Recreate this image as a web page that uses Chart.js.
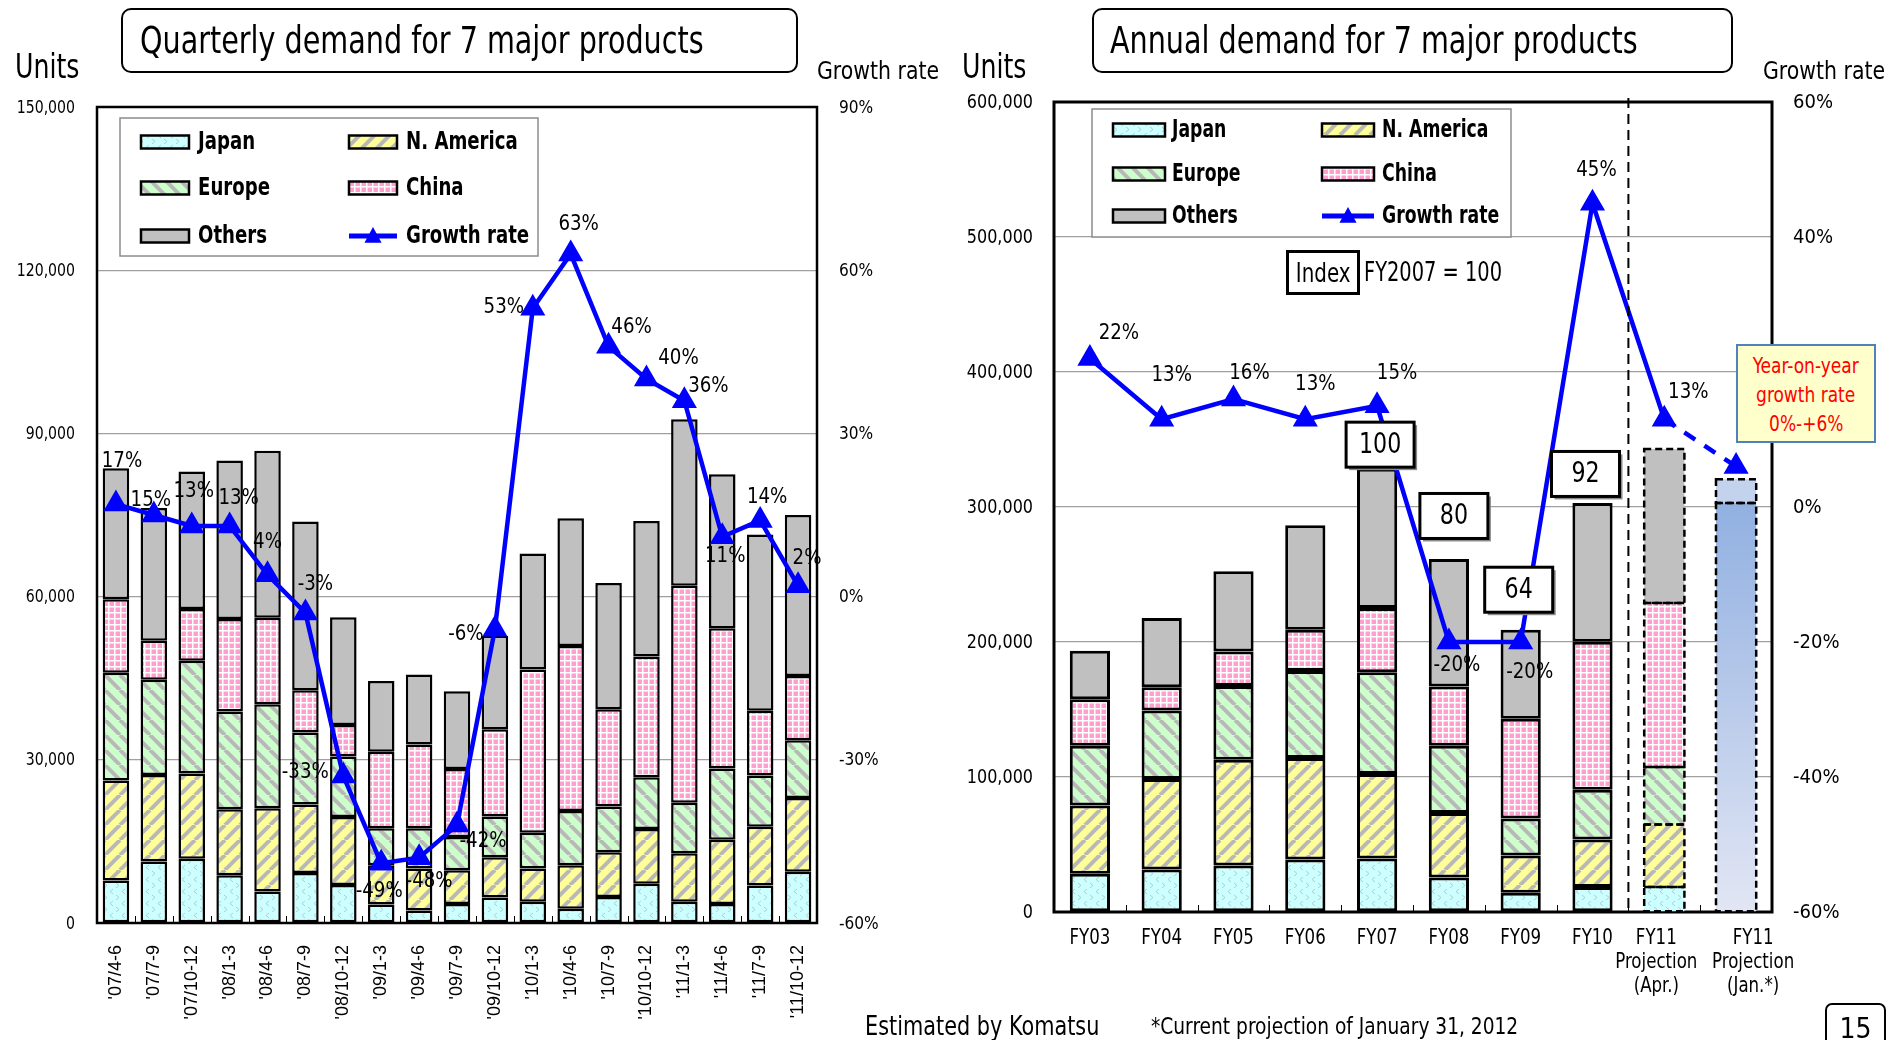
<!DOCTYPE html>
<html>
<head>
<meta charset="utf-8">
<title>Demand for 7 major products</title>
<script src="https://cdn.jsdelivr.net/npm/chart.js@4.4.1/dist/chart.umd.min.js"></script>
<style>
  body { margin: 0; width: 1904px; height: 1040px; background: #fff; position: relative; overflow: hidden;
         font-family: "DejaVu Sans Condensed", "DejaVu Sans", sans-serif; color: #000; }
  canvas { position: absolute; top: 0; }
  .t { position: absolute; white-space: nowrap; line-height: 1; transform-origin: 0 50%; }
  .title { position: absolute; box-sizing: border-box; border: 2.5px solid #000; border-radius: 10px;
           display: flex; align-items: center; font-size: 37px; white-space: nowrap; }
  .title span { display: inline-block; transform: scaleX(0.86); transform-origin: 0 50%; }
  .note { position: absolute; box-sizing: border-box; background: #ffffcc; border: 2px solid #4f81bd;
          color: #f00; text-align: center; font-size: 22px; line-height: 29px; padding-top: 5px; }
  .note span { display: inline-block; transform: scaleX(0.86); }
</style>
</head>
<body>
<canvas id="quarterly" width="950" height="1040" style="left:0"></canvas>
<canvas id="annual" width="954" height="1040" style="left:950px"></canvas>

<div class="title" style="left:121px;top:8px;width:677px;height:65px;padding-left:17px"><span>Quarterly demand for 7 major products</span></div>
<div class="title" style="left:1092px;top:8px;width:641px;height:65px;padding-left:16px"><span>Annual demand for 7 major products</span></div>

<div class="t" style="left:15px;top:50px;font-size:33px;transform:scaleX(0.85)">Units</div>
<div class="t" style="left:817px;top:58px;font-size:25px;transform:scaleX(0.91)">Growth rate</div>
<div class="t" style="left:962px;top:50px;font-size:33px;transform:scaleX(0.85)">Units</div>
<div class="t" style="left:1763px;top:58px;font-size:25px;transform:scaleX(0.91)">Growth rate</div>

<div class="t" style="left:1286px;top:250px;width:74px;height:45px;box-sizing:border-box;border:3px solid #000;font-size:26px;display:flex;align-items:center;justify-content:center"><span style="display:inline-block;transform:scaleX(0.85)">Index</span></div>
<div class="t" style="left:1364px;top:259px;font-size:26px;transform:scaleX(0.83)">FY2007 = 100</div>

<div class="note" style="left:1736px;top:344px;width:140px;height:99px"><span>Year-on-year</span><br><span>growth rate</span><br><span>0%-+6%</span></div>

<div class="t" style="left:865px;top:1013px;font-size:26px;transform:scaleX(0.89)">Estimated by Komatsu</div>
<div class="t" style="left:1151px;top:1015px;font-size:23px;transform:scaleX(0.9)">*Current projection of January 31, 2012</div>
<div class="t" style="left:1825px;top:1003px;width:61px;height:50px;box-sizing:border-box;border:2px solid #000;border-radius:7px;font-size:28px;text-align:center;padding-top:10px">15</div>

<script>
// ---- quarterly data (units) ----
const quarters = ["'07/4-6", "'07/7-9", "'07/10-12", "'08/1-3", "'08/4-6", "'08/7-9", "'08/10-12",
                  "'09/1-3", "'09/4-6", "'09/7-9", "'09/10-12", "'10/1-3", "'10/4-6", "'10/7-9",
                  "'10/10-12", "'11/1-3", "'11/4-6", "'11/7-9", "'11/10-12"];
const qJapan    = [7800, 11300, 11800, 8800, 5800, 9200, 7000, 3400, 2300, 3500, 4700, 3900, 2600, 4800, 7200, 3900, 3500, 6900, 9400];
const qNAmerica = [18400, 15900, 15700, 12100, 15300, 12600, 12500, 7200, 7700, 6200, 7400, 6100, 8000, 8200, 10100, 8900, 11800, 10800, 13600];
const qEurope   = [19800, 17500, 20700, 18000, 19100, 13200, 11100, 6800, 7400, 6100, 7500, 6600, 10000, 8400, 9500, 9300, 13100, 9400, 10600];
const qChina    = [13500, 7200, 9500, 17000, 15900, 7800, 5800, 14100, 15400, 12500, 16000, 30000, 30300, 17900, 22200, 39900, 25800, 11900, 11800];
const qOthers   = [24100, 24400, 25300, 29100, 30700, 31000, 19800, 13000, 12900, 14300, 17200, 21300, 23500, 23200, 24900, 30600, 28300, 32400, 29600];
const qGrowth   = [17, 15, 13, 13, 4, -3, -33, -49, -48, -42, -6, 53, 63, 46, 40, 36, 11, 14, 2];

// ---- annual data (units) ----
const years = ['FY03', 'FY04', 'FY05', 'FY06', 'FY07', 'FY08', 'FY09', 'FY10',
               ['FY11', 'Projection', '(Apr.)'], ['FY11', 'Projection', '(Jan.*)']];
const aJapan    = [28300, 31500, 34500, 38900, 39700, 25600, 14300, 18500, 18500, null];
const aNAmerica = [50500, 67000, 78300, 75100, 62500, 47800, 27600, 35200, 46300, null];
const aEurope   = [44300, 50700, 54700, 64500, 75400, 49800, 27300, 36900, 42600, null];
const aChina    = [34500, 17200, 25400, 30600, 47600, 43800, 73900, 109600, 121500, null];
const aOthers   = [36000, 51300, 59500, 77300, 103200, 94500, 66000, 102800, 114100, null];
const aJanBase  = [null, null, null, null, null, null, null, null, null, 303000];
const aJanRange = [null, null, null, null, null, null, null, null, null, 17500];
const aGrowth   = [22, 13, 16, 13, 15, -20, -20, 45, 13, 6];
const aIndex    = [null, null, null, null, 100, 80, 64, 92, null, null];

// label placement around the growth points, [dx, dy] in px
const qLabelOffsets = [[6, -43], [-3, -15], [2, -35], [9, -28], [0, -33], [10, -29], [-38, -4], [-2, 28], [10, 24],
                       [26, 16], [-29, 5], [-29, -1], [8, -30], [23, -19], [32, -21], [24, -14], [3, 20], [7, -23], [9, -27]];
const aLabelOffsets = [[29, -25], [10, -44], [16, -26], [10, -35], [20, -32], [8, 23], [9, 30], [4, -33], [24, -27], null];
const aIndexOffsets = [null, null, null, null, [3, -24], [5, -43], [-2, -40], [-7, -29], null, null];
const aTickShift    = [0, 0, 0, 0, 0, 0, 0, 0, -8, 17];

const FONT = '"DejaVu Sans Condensed", "DejaVu Sans", sans-serif';
const WIDE = '"Liberation Sans", Arial, sans-serif';

// text drawn narrower than the font's own width
function squeeze(ctx, text, x, y, sx, align) {
  ctx.save();
  ctx.translate(x, y);
  ctx.scale(sx, 1);
  ctx.textAlign = align || 'center';
  ctx.fillText(text, 0, 0);
  ctx.restore();
}

// ---- hatch fills ----
function makeFill(bg, size, draw) {
  const c = document.createElement('canvas');
  c.width = size; c.height = size;
  const g = c.getContext('2d');
  g.fillStyle = bg;
  g.fillRect(0, 0, size, size);
  if (draw) draw(g, size);
  return g.createPattern(c, 'repeat');
}
function stripes(dir) {
  return (g, s) => {
    g.strokeStyle = '#b8b8b8';
    g.lineWidth = 4;
    for (const k of [-s, 0, s]) {
      g.beginPath();
      if (dir > 0) { g.moveTo(k, s); g.lineTo(k + s, 0); }
      else { g.moveTo(k, 0); g.lineTo(k + s, s); }
      g.stroke();
    }
  };
}
const fillJapan = makeFill('#ccffff', 12, g => {
  g.strokeStyle = '#b4cccc'; g.lineWidth = 1;
  g.beginPath();
  g.moveTo(5, 1); g.lineTo(2, 3.5); g.lineTo(5, 6);
  g.moveTo(8, 7); g.lineTo(11, 9.5); g.lineTo(8, 12);
  g.stroke();
});
const fillNAm = makeFill('#ffff99', 15, stripes(1));
const fillEur = makeFill('#ccffcc', 15, stripes(-1));
const fillChina = makeFill('#ff9fcf', 6, g => {
  g.fillStyle = '#fff';
  g.fillRect(0, 0, 1.5, 6);
  g.fillRect(0, 0, 6, 1.5);
});
const fillOthers = '#c0c0c0';

const legendItems = [
  { text: 'Japan', fill: fillJapan }, { text: 'N. America', fill: fillNAm },
  { text: 'Europe', fill: fillEur }, { text: 'China', fill: fillChina },
  { text: 'Others', fill: fillOthers }, { text: 'Growth rate', line: true }
];

function triangle(ctx, x, y, r) {
  ctx.beginPath();
  ctx.moveTo(x, y - r);
  ctx.lineTo(x + r * 0.95, y + r * 0.75);
  ctx.lineTo(x - r * 0.95, y + r * 0.75);
  ctx.closePath();
  ctx.fill();
}

// ---- plugins ----
const framePlugin = {
  id: 'frame',
  beforeDatasetsDraw(chart, args, o) {
    const a = chart.chartArea, ctx = chart.ctx, x = chart.scales.x;
    ctx.save();
    ctx.strokeStyle = '#000';
    ctx.lineWidth = 1;
    for (let i = 1; i < x.ticks.length; i++) {
      const px = Math.round((x.getPixelForTick(i - 1) + x.getPixelForTick(i)) / 2) + 0.5;
      ctx.beginPath(); ctx.moveTo(px, a.bottom); ctx.lineTo(px, a.bottom - 7); ctx.stroke();
    }
    ctx.lineWidth = o.width;
    ctx.strokeRect(a.left, a.top, a.right - a.left, a.bottom - a.top);
    ctx.restore();
  }
};

// value axis labels on both sides (and the category labels when asked)
const axisText = {
  id: 'axisText',
  afterDraw(chart, args, o) {
    const ctx = chart.ctx, a = chart.chartArea, y = chart.scales.y, y1 = chart.scales.y1;
    ctx.save();
    ctx.fillStyle = '#000';
    ctx.textBaseline = 'middle';
    ctx.font = o.font;
    y.ticks.forEach(t => squeeze(ctx, t.value.toLocaleString('en-US'), a.left - o.pad, y.getPixelForValue(t.value) + 1, o.sxLeft, 'right'));
    y1.ticks.forEach(t => squeeze(ctx, t.value + '%', a.right + o.pad, y1.getPixelForValue(t.value) + 1, o.sxRight, 'left'));
    if (o.categories) {
      const x = chart.scales.x;
      ctx.font = o.catFont;
      o.categories.forEach((lab, i) => {
        const lines = Array.isArray(lab) ? lab : [lab];
        const cx = x.getPixelForTick(i) + o.catShift[i];
        lines.forEach((ln, j) => squeeze(ctx, ln, cx, a.bottom + o.catTop + j * o.catStep, o.catSx, 'center'));
      });
    }
    ctx.restore();
  }
};

const growthLabels = {
  id: 'growthLabels',
  afterDatasetsDraw(chart, args, o) {
    const ctx = chart.ctx, meta = chart.getDatasetMeta(0);
    ctx.save();
    ctx.font = o.font;
    ctx.fillStyle = '#000';
    ctx.textBaseline = 'middle';
    meta.data.forEach((pt, i) => {
      const off = o.offsets[i];
      if (!off) return;
      squeeze(ctx, o.values[i] + '%', pt.x + off[0], pt.y + off[1], o.sx, 'center');
    });
    ctx.restore();
  }
};

const boxLegend = {
  id: 'boxLegend',
  afterDraw(chart, args, o) {
    const ctx = chart.ctx;
    const [bx, by, bw, bh] = o.box;
    ctx.save();
    ctx.fillStyle = '#fff';
    ctx.fillRect(bx, by, bw, bh);
    ctx.strokeStyle = '#8c8c8c';
    ctx.lineWidth = 1.5;
    ctx.strokeRect(bx, by, bw, bh);
    legendItems.forEach((it, i) => {
      const col = o.cols[i % 2], y = o.rows[Math.floor(i / 2)];
      const sx = col[0], w = o.swatch[0], h = o.swatch[1];
      if (it.line) {
        ctx.strokeStyle = '#0000ff';
        ctx.lineWidth = 5;
        ctx.beginPath(); ctx.moveTo(sx, y); ctx.lineTo(sx + w, y); ctx.stroke();
        ctx.fillStyle = '#0000ff';
        triangle(ctx, sx + w / 2, y, 9);
      } else {
        ctx.fillStyle = it.fill;
        ctx.fillRect(sx, y - h / 2, w, h);
        ctx.strokeStyle = '#000';
        ctx.lineWidth = 2.5;
        ctx.strokeRect(sx, y - h / 2, w, h);
      }
      ctx.fillStyle = '#000';
      ctx.font = o.font;
      ctx.textBaseline = 'middle';
      squeeze(ctx, it.text, col[1], y + 1, o.sx, 'left');
    });
    ctx.restore();
  }
};

// dashed outlines for the FY11 projection bars, separator and index boxes
const projectionMarks = {
  id: 'projectionMarks',
  afterDatasetsDraw(chart) {
    const ctx = chart.ctx, a = chart.chartArea, x = chart.scales.x;
    ctx.save();
    ctx.strokeStyle = '#000';
    ctx.lineWidth = 2.5;
    ctx.setLineDash([7, 4]);
    const outline = (ds, idx) => {
      const el = chart.getDatasetMeta(ds).data[idx];
      if (!el) return;
      const top = Math.min(el.y, el.base), h = Math.abs(el.base - el.y);
      ctx.strokeRect(el.x - el.width / 2, top, el.width, h);
    };
    for (let ds = 1; ds <= 5; ds++) outline(ds, 8);
    outline(6, 9);
    outline(7, 9);
    // separator between actual and projected years
    const sx = (x.getPixelForTick(7) + x.getPixelForTick(8)) / 2;
    ctx.lineWidth = 2;
    ctx.setLineDash([10, 6]);
    ctx.beginPath(); ctx.moveTo(sx, a.top - 4); ctx.lineTo(sx, a.bottom); ctx.stroke();
    ctx.restore();
  },
  afterDraw(chart) {
    const ctx = chart.ctx;
    const others = chart.getDatasetMeta(5).data;
    ctx.save();
    aIndex.forEach((v, i) => {
      if (v === null) return;
      const el = others[i], off = aIndexOffsets[i];
      const cx = el.x + off[0], cy = el.y + off[1], w = 68, h = 45;
      ctx.fillStyle = '#8a8a8a';
      ctx.fillRect(cx - w / 2 + 3, cy - h / 2 + 3, w, h);
      ctx.fillStyle = '#fff';
      ctx.fillRect(cx - w / 2, cy - h / 2, w, h);
      ctx.strokeStyle = '#000';
      ctx.lineWidth = 3;
      ctx.strokeRect(cx - w / 2, cy - h / 2, w, h);
      ctx.fillStyle = '#000';
      ctx.font = '28px ' + FONT;
      ctx.textBaseline = 'middle';
      squeeze(ctx, String(v), cx, cy + 1, 0.88, 'center');
    });
    ctx.restore();
  }
};

function barSet(label, data, fill, width) {
  return {
    label, data, backgroundColor: fill, borderColor: '#000', borderWidth: width,
    borderSkipped: false, order: 1
  };
}
function growthSet(data) {
  return {
    label: 'Growth rate', type: 'line', data, yAxisID: 'y1', order: 0,
    borderColor: '#0000ff', borderWidth: 4.5, tension: 0, clip: false,
    pointStyle: 'triangle', pointRadius: 10, pointBackgroundColor: '#0000ff', pointBorderColor: '#0000ff'
  };
}

// ---- quarterly chart ----
new Chart(document.getElementById('quarterly'), {
  type: 'bar',
  data: {
    labels: quarters,
    datasets: [
      growthSet(qGrowth),
      barSet('Japan', qJapan, fillJapan, 2.5),
      barSet('N. America', qNAmerica, fillNAm, 2.5),
      barSet('Europe', qEurope, fillEur, 2.5),
      barSet('China', qChina, fillChina, 2.5),
      barSet('Others', qOthers, fillOthers, 2.5)
    ]
  },
  options: {
    responsive: false,
    animation: false,
    layout: { padding: { top: 107, left: 0, right: 0, bottom: 0 } },
    datasets: { bar: { barPercentage: 0.7, categoryPercentage: 1 } },
    plugins: {
      legend: { display: false },
      tooltip: { enabled: false },
      frame: { width: 2.5 },
      axisText: { font: '18px ' + FONT, pad: 22, sxLeft: 0.87, sxRight: 0.95 },
      growthLabels: { values: qGrowth, offsets: qLabelOffsets, font: '22px ' + FONT, sx: 0.92 },
      boxLegend: {
        box: [120, 118, 418, 138], rows: [142, 188, 236], cols: [[141, 198], [349, 406]],
        swatch: [48, 13], font: 'bold 24px ' + FONT, sx: 0.84
      }
    },
    scales: {
      x: {
        stacked: true,
        grid: { display: false },
        border: { display: false },
        ticks: { autoSkip: false, maxRotation: 90, minRotation: 90, padding: 14, color: '#000', font: { family: WIDE, size: 18 } },
        afterFit: s => { s.height = 117; }
      },
      y: {
        stacked: true, min: 0, max: 150000,
        grid: { color: '#a0a0a0', lineWidth: 1.3, drawTicks: false },
        border: { display: false },
        ticks: { stepSize: 30000, display: false },
        afterFit: s => { s.width = 97; }
      },
      y1: {
        position: 'right', min: -60, max: 90,
        grid: { display: false },
        border: { display: false },
        ticks: { stepSize: 30, display: false },
        afterFit: s => { s.width = 133; }
      }
    }
  },
  plugins: [framePlugin, growthLabels, boxLegend, axisText]
});

// ---- annual chart ----
const edge = [3, 3, 3, 3, 3, 3, 3, 3, 0, 0];
function janGradient(dark, light, valueTop) {
  return ctx => {
    const chart = ctx.chart, a = chart.chartArea, y = chart.scales.y;
    if (!a || !y) return dark;
    const g = chart.ctx.createLinearGradient(0, a.bottom, 0, y.getPixelForValue(valueTop));
    g.addColorStop(0, light);
    g.addColorStop(1, dark);
    return g;
  };
}

new Chart(document.getElementById('annual'), {
  type: 'bar',
  data: {
    labels: years,
    datasets: [
      Object.assign(growthSet(aGrowth), {
        segment: { borderDash: c => c.p1DataIndex === 9 ? [13, 11] : undefined }
      }),
      barSet('Japan', aJapan, fillJapan, edge),
      barSet('N. America', aNAmerica, fillNAm, edge),
      barSet('Europe', aEurope, fillEur, edge),
      barSet('China', aChina, fillChina, edge),
      barSet('Others', aOthers, fillOthers, edge),
      barSet('FY11 Jan.', aJanBase, janGradient('#91b0e1', '#e2e6f4', 303000), 0),
      barSet('FY11 Jan. range', aJanRange, '#c3d3ee', 0)
    ]
  },
  options: {
    responsive: false,
    animation: false,
    layout: { padding: { top: 102, left: 0, right: 0, bottom: 0 } },
    datasets: { bar: { barPercentage: 0.56, categoryPercentage: 1 } },
    plugins: {
      legend: { display: false },
      tooltip: { enabled: false },
      frame: { width: 3 },
      axisText: {
        font: '20px ' + FONT, pad: 21, sxLeft: 0.89, sxRight: 1.0,
        categories: years, catShift: aTickShift, catFont: '21px ' + FONT, catSx: 0.88,
        catTop: 27, catStep: 24
      },
      growthLabels: { values: aGrowth, offsets: aLabelOffsets, font: '22px ' + FONT, sx: 0.92 },
      boxLegend: {
        box: [142, 109, 419, 128], rows: [130, 174, 216], cols: [[163, 222], [372, 432]],
        swatch: [52, 13], font: 'bold 24px ' + FONT, sx: 0.8
      }
    },
    scales: {
      x: {
        stacked: true,
        grid: { display: false },
        border: { display: false },
        ticks: { autoSkip: false, maxRotation: 0, display: false },
        afterFit: s => { s.height = 128; }
      },
      y: {
        stacked: true, min: 0, max: 600000,
        grid: { color: '#a0a0a0', lineWidth: 1.3, drawTicks: false },
        border: { display: false },
        ticks: { stepSize: 100000, display: false },
        afterFit: s => { s.width = 104; }
      },
      y1: {
        position: 'right', min: -60, max: 60,
        grid: { display: false },
        border: { display: false },
        ticks: { stepSize: 20, display: false },
        afterFit: s => { s.width = 132; }
      }
    }
  },
  plugins: [framePlugin, growthLabels, boxLegend, projectionMarks, axisText]
});
</script>
</body>
</html>
